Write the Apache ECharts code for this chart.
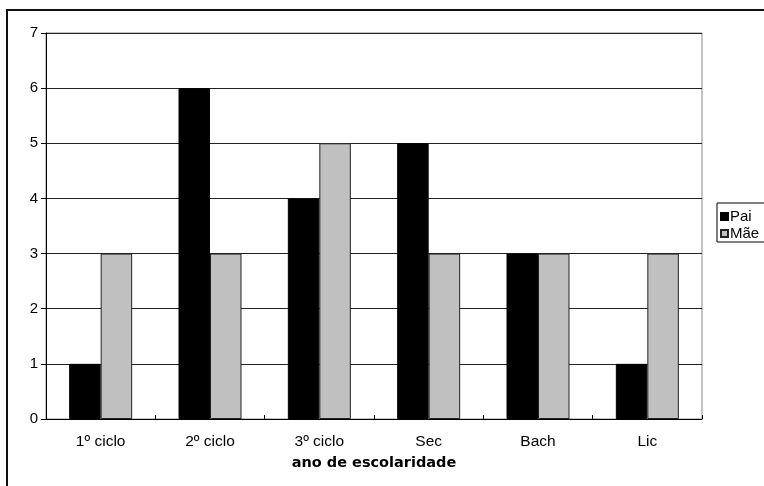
<!DOCTYPE html>
<html>
<head>
<meta charset="utf-8">
<script src="https://cdn.jsdelivr.net/npm/echarts@6/dist/echarts.min.js"></script>
<style>
html,body{margin:0;padding:0;background:#fff;}
#chart{width:764px;height:486px;}
</style>
</head>
<body>
<div id="chart"></div>
<script>
var categories = ['1º ciclo', '2º ciclo', '3º ciclo', 'Sec', 'Bach', 'Lic'];
var paiValues = [1, 6, 4, 5, 3, 1];
var maeValues = [3, 3, 5, 3, 3, 3];
var yTicks = [0, 1, 2, 3, 4, 5, 6, 7];

var chart = echarts.init(document.getElementById('chart'));
var font = 'Arial, "Liberation Sans", sans-serif';
chart.setOption({
  animation: false,
  backgroundColor: '#fff',
  graphic: [{
    type: 'rect',
    shape: {x: 7, y: 10, width: 800, height: 520},
    style: {fill: 'none', stroke: '#111', lineWidth: 2},
    z: 0
  }],
  grid: {
    left: 46, right: 62, top: 33, bottom: 67,
    show: true, borderColor: '#888', borderWidth: 1, backgroundColor: '#fff'
  },
  legend: {
    orient: 'vertical',
    left: 717, top: 203,
    data: ['Pai', 'Mãe'],
    icon: 'rect',
    itemWidth: 7, itemHeight: 7,
    itemGap: 2,
    padding: [6, 30, 1, 3],
    borderColor: '#000', borderWidth: 1,
    textStyle: {fontFamily: font, fontSize: 15, color: '#000', padding: [0, 0, 0, -3]}
  },
  xAxis: {
    type: 'category',
    data: categories,
    name: 'ano de escolaridade',
    nameLocation: 'middle',
    nameGap: 37,
    nameTextStyle: {fontFamily: '"DejaVu Sans", sans-serif', fontSize: 14.5, fontWeight: 'bold', color: '#000'},
    axisLine: {lineStyle: {color: '#000', width: 1}},
    axisTick: {show: true, inside: true, length: 4, lineStyle: {color: '#000'}},
    axisLabel: {fontFamily: font, fontSize: 15.5, color: '#000', margin: 15}
  },
  yAxis: {
    type: 'value',
    min: yTicks[0], max: yTicks[yTicks.length - 1], interval: 1,
    axisLine: {show: true, lineStyle: {color: '#000', width: 1}},
    axisTick: {show: true, length: 5, lineStyle: {color: '#000'}},
    axisLabel: {fontFamily: font, fontSize: 15, color: '#000', margin: 8},
    splitLine: {show: true, lineStyle: {color: '#222', width: 1}}
  },
  series: [{
    name: 'Pai', type: 'bar', data: paiValues,
    barWidth: 31.5, barGap: '0%',
    itemStyle: {color: '#000', borderColor: '#000', borderWidth: 1}
  }, {
    name: 'Mãe', type: 'bar', data: maeValues,
    barWidth: 31.5,
    itemStyle: {color: '#c0c0c0', borderColor: '#222', borderWidth: 1}
  }]
});
</script>
</body>
</html>
